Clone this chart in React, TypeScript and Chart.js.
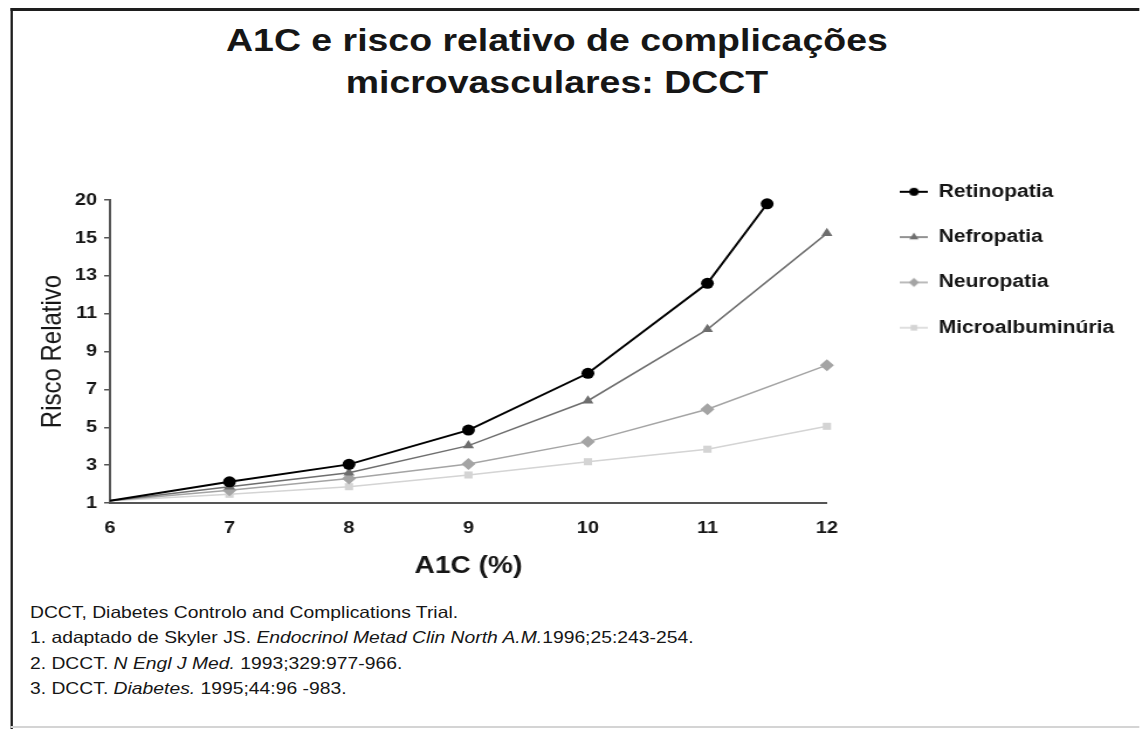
import React, { useEffect, useRef } from 'react';
import { Chart, registerables, LinearScale } from 'chart.js';
import { drawPoint } from 'chart.js/helpers';

Chart.register(...registerables);

// ---------- data ----------
const TITLE_LINES = ['A1C e risco relativo de complicações', 'microvasculares: DCCT'];
const X_TITLE = 'A1C (%)';
const Y_TITLE = 'Risco Relativo';
const Y_TICKS = [1, 3, 5, 7, 9, 11, 13, 15, 20];
const X_MIN = 6;
const X_MAX = 12;

const A1C = [6, 7, 8, 9, 10, 11, 12];
const A1C_RETINO = [6, 7, 8, 9, 10, 11, 11.5];
const SERIES_NAMES = ['Retinopatia', 'Nefropatia', 'Neuropatia', 'Microalbuminúria'];
const RETINOPATIA = [1.12, 2.12, 3.04, 4.85, 7.85, 12.6, 19.5];
const NEFROPATIA = [1.12, 1.86, 2.6, 4.03, 6.4, 10.17, 15.6];
const NEUROPATIA = [1.12, 1.67, 2.3, 3.06, 4.24, 5.95, 8.28];
const MICROALBUMINURIA = [1.12, 1.46, 1.86, 2.48, 3.18, 3.84, 5.05];

const FOOTNOTES = [
  ['DCCT, Diabetes Controlo and Complications Trial.'],
  ['1. adaptado de Skyler JS. ', 'Endocrinol Metad Clin North A.M.', '1996;25:243-254.'],
  ['2. DCCT. ', 'N Engl J Med.', ' 1993;329:977-966.'],
  ['3. DCCT. ', 'Diabetes.', ' 1995;44:96 -983.'],
];

// ---------- layout constants ----------
const SX = 1.17; // the reference is horizontally stretched
const W0 = 1140 / SX;
const FONT = '"Liberation Sans", Arial, Helvetica, sans-serif';
const TEXT = '#161616';

// axis with a break: ticks evenly spaced, values interpolated between ticks
function toPos(v: number) {
  const t = Y_TICKS;
  let i = 0;
  while (i < t.length - 2 && v > t[i + 1]) i++;
  return i + (v - t[i]) / (t[i + 1] - t[i]);
}
function fromPos(p: number) {
  const t = Y_TICKS;
  const i = Math.min(Math.max(Math.floor(p), 0), t.length - 2);
  return t[i] + (p - i) * (t[i + 1] - t[i]);
}

class BrokenLinearScale extends LinearScale {
  static id = 'brokenLinear';
  static defaults = {};
  determineDataLimits() {
    (this as any).min = Y_TICKS[0];
    (this as any).max = Y_TICKS[Y_TICKS.length - 1];
  }
  buildTicks() {
    return Y_TICKS.map((v) => ({ value: v }));
  }
  getPixelForValue(value: number) {
    return this.getPixelForDecimal(toPos(value) / (Y_TICKS.length - 1));
  }
  getValueForPixel(pixel: number) {
    return fromPos(this.getDecimalForPixel(pixel) * (Y_TICKS.length - 1));
  }
}
Chart.register(BrokenLinearScale as any);

const legendOffset = {
  id: 'legendOffset',
  afterLayout(chart: any, _args: any, opts: any) {
    const lg = chart.legend;
    const ca = chart.chartArea;
    if (!lg || !ca) return;
    lg.left = ca.right + opts.dx;
    lg.width = opts.w;
    lg.right = lg.left + opts.w;
    lg.top = ca.top + opts.dy;
    lg.bottom = lg.top + lg.height;
  },
};

function makeIcon(color: string, lineWidth: number, pointStyle: string, radius: number) {
  const c = document.createElement('canvas');
  c.width = 24;
  c.height = 12;
  const g = c.getContext('2d')!;
  g.strokeStyle = color;
  g.lineWidth = lineWidth;
  g.beginPath();
  g.moveTo(0, 6);
  g.lineTo(24, 6);
  g.stroke();
  g.fillStyle = color;
  g.strokeStyle = color;
  drawPoint(g, { pointStyle, radius, rotation: 0, borderWidth: 0 } as any, 12, 6);
  return c;
}

export default function App() {
  const ref = useRef<HTMLCanvasElement>(null);

  useEffect(() => {
    const styles = [
      { color: '#000000', width: 2, style: 'circle', r: 5.5, lr: 4 },
      { color: '#6e6e6e', width: 1.5, style: 'triangle', r: 5.5, lr: 4.5 },
      { color: '#a4a4a4', width: 1.5, style: 'rectRot', r: 6, lr: 4.5 },
      { color: '#d4d4d4', width: 1.5, style: 'rect', r: 5, lr: 4 },
    ];
    const values = [RETINOPATIA, NEFROPATIA, NEUROPATIA, MICROALBUMINURIA];
    const xs = [A1C_RETINO, A1C, A1C, A1C];
    const icons = styles.map((s) => makeIcon(s.color, s.width, s.style, s.lr));

    const datasets = SERIES_NAMES.map((name, i) => ({
      label: name,
      data: values[i].map((y, j) => ({ x: xs[i][j], y })),
      borderColor: styles[i].color,
      backgroundColor: styles[i].color,
      borderWidth: styles[i].width,
      pointStyle: styles[i].style,
      pointRadius: (ctx: any) => (ctx.dataIndex === 0 ? 0 : styles[i].r),
      pointBorderWidth: 0,
      pointBackgroundColor: styles[i].color,
      tension: 0,
      clip: false as any,
    }));

    const chart = new Chart(ref.current!, {
      type: 'line',
      data: { datasets },
      plugins: [legendOffset],
      options: {
        animation: false,
        responsive: true,
        maintainAspectRatio: false,
        events: [],
        layout: { padding: { left: 0, top: 50, right: W0 - 706.8 - 200, bottom: 7 } },
        plugins: {
          tooltip: { enabled: false },
          title: { display: false },
          legend: {
            display: true,
            position: 'right',
            align: 'start',
            maxWidth: 200,
            labels: {
              usePointStyle: true,
              pointStyleWidth: 24,
              padding: 27.3,
              color: TEXT,
              font: { family: FONT, size: 18, weight: 'bold' },
              generateLabels: (c: any) => {
                const items = Chart.defaults.plugins.legend.labels.generateLabels(c);
                return items.map((it: any, i: number) => ({ ...it, pointStyle: icons[i] }));
              },
            },
          },
          legendOffset: { dx: 35.1, dy: -44.5, w: 225 },
        } as any,
        scales: {
          x: {
            type: 'linear',
            min: X_MIN,
            max: X_MAX,
            afterFit: (s: any) => {
              s.height = 80;
            },
            ticks: {
              stepSize: 1,
              padding: 15.5,
              color: TEXT,
              font: { family: FONT, size: 17, weight: 'bold' },
            },
            grid: { display: false, drawTicks: false },
            border: { display: true, color: '#555555', width: 2 },
            title: {
              display: true,
              text: X_TITLE,
              color: TEXT,
              font: { family: FONT, size: 24, weight: 'bold' },
              padding: { top: 0, bottom: 2 },
            },
          },
          y: {
            type: 'brokenLinear' as any,
            afterFit: (s: any) => {
              s.width = 94;
            },
            ticks: {
              padding: 6,
              color: TEXT,
              autoSkip: false,
              font: { family: FONT, size: 17, weight: 'bold' },
              callback: (v: any) => String(v),
            },
            grid: {
              display: true,
              drawOnChartArea: false,
              drawTicks: true,
              tickLength: 5,
              color: '#555555',
              lineWidth: 1.5,
            },
            border: { display: true, color: '#555555', width: 2 },
            title: {
              display: true,
              text: Y_TITLE,
              color: TEXT,
              font: { family: FONT, size: 24, weight: 'normal' },
              padding: { top: 31, bottom: 0 },
            },
          },
        } as any,
      },
    });
    return () => chart.destroy();
  }, []);

  return (
    <div
      style={{
        position: 'absolute',
        left: 0,
        top: 0,
        width: W0,
        height: 729,
        transform: `scaleX(${SX})`,
        transformOrigin: '0 0',
        background: '#ffffff',
        overflow: 'hidden',
        fontFamily: FONT,
        color: TEXT,
      }}
    >
      <div style={{ position: 'absolute', left: 8.5, top: 8, right: 0, height: 3, background: '#1e1e1e' }} />
      <div style={{ position: 'absolute', left: 8.5, top: 8, width: 2.6, height: 721, background: '#1e1e1e' }} />
      <div style={{ position: 'absolute', left: 8.5, top: 726, right: 0, height: 1.5, background: '#d4d4d4' }} />
      <div
        style={{
          position: 'absolute',
          left: 0,
          top: 19,
          width: 952,
          textAlign: 'center',
          fontWeight: 'bold',
          fontSize: 32,
          lineHeight: '42px',
        }}
      >
        {TITLE_LINES.map((t, i) => (
          <div key={i}>{t}</div>
        ))}
      </div>
      <div style={{ position: 'absolute', left: 0, top: 150, width: W0, height: 440 }}>
        <canvas ref={ref} />
      </div>
      <div
        style={{
          position: 'absolute',
          left: 25.6,
          top: 600,
          fontSize: 16.5,
          lineHeight: '25.3px',
          whiteSpace: 'nowrap',
        }}
      >
        {FOOTNOTES.map((parts, i) => (
          <div key={i}>
            {parts.map((p, j) => (j === 1 ? <i key={j}>{p}</i> : <span key={j}>{p}</span>))}
          </div>
        ))}
      </div>
    </div>
  );
}
